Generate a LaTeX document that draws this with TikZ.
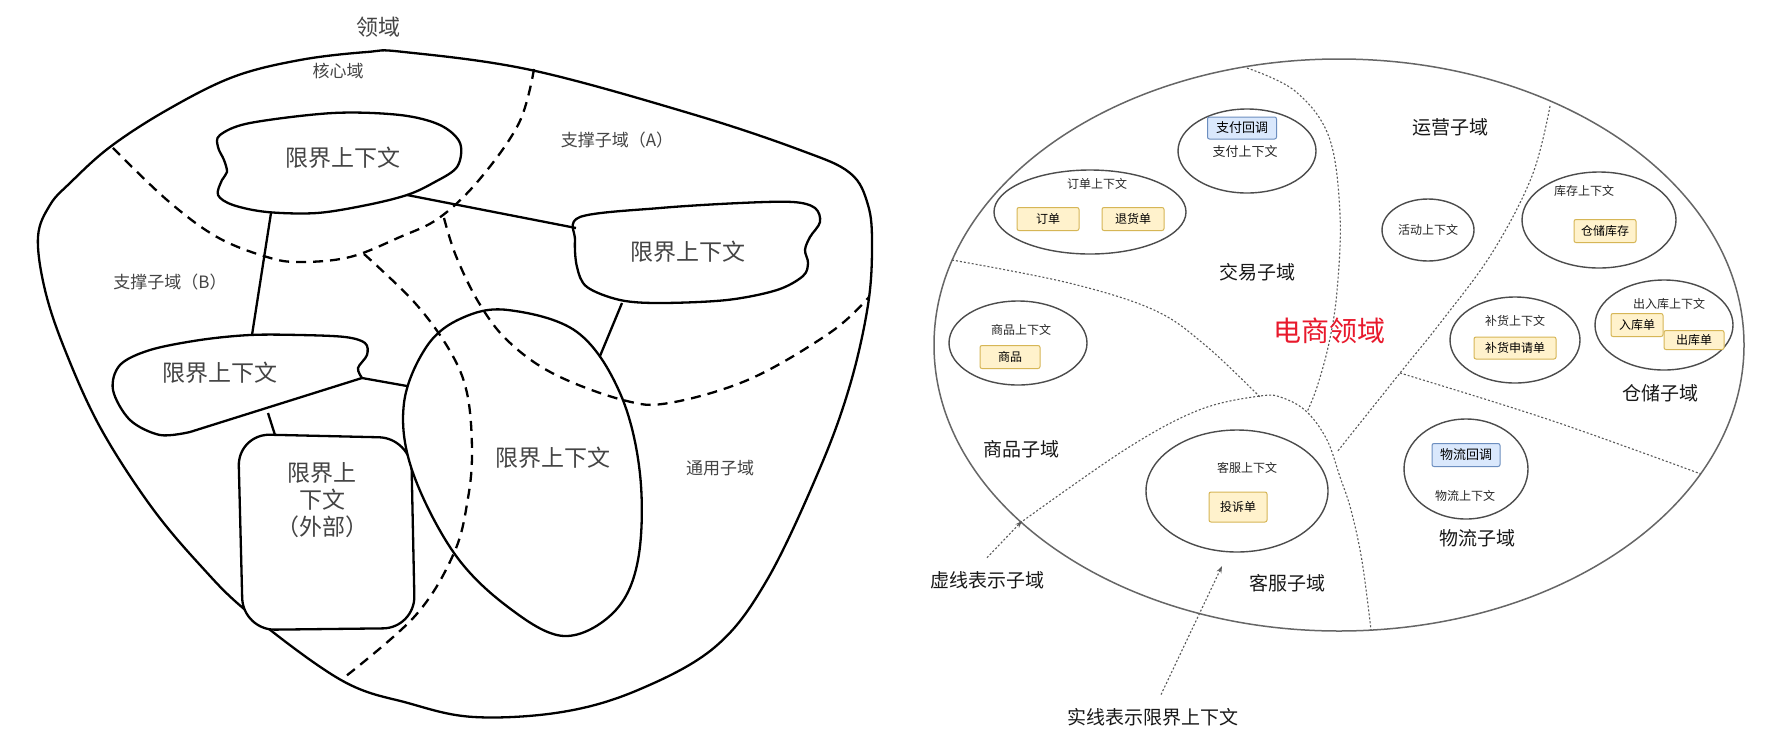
\documentclass[tikz,border=0pt]{standalone}
\usepackage{fontspec}
\setmainfont{Noto Sans CJK SC}
\usetikzlibrary{arrows.meta}
\definecolor{yfill}{HTML}{FFF2CC}
\definecolor{ydraw}{HTML}{D6B656}
\definecolor{bfill}{HTML}{DAE8FC}
\definecolor{bdraw}{HTML}{6C8EBF}
\definecolor{ered}{HTML}{E8192C}
\definecolor{ltxt}{HTML}{444444}
\newcommand\fsz[2]{\fontsize{#1}{#2}\selectfont}
\begin{document}
\begin{tikzpicture}[x=1pt,y=-1pt,
  bline/.style={draw=black,line width=2.3pt,line join=round},
  dline/.style={draw=black,line width=2.3pt,dash pattern=on 10pt off 7pt},
  lbl/.style={text=ltxt,font=\fsz{17}{20}},
  bctx/.style={text=ltxt,font=\fsz{23}{27},align=center},
  sub/.style={draw=black!65,line width=1.1pt,dash pattern=on 2pt off 2pt},
  ctxe/.style={draw=black!70,line width=1.4pt},
  ybox/.style={draw=ydraw,fill=yfill,rounded corners=2pt,line width=1pt,inner sep=0pt,font=\fsz{12}{14}},
  bbox/.style={draw=bdraw,fill=bfill,rounded corners=2pt,line width=1pt,inner sep=0pt,font=\fsz{13}{15}},
  stxt/.style={font=\fsz{12}{14},text=black!85},
  dom/.style={font=\fsz{19}{22},text=black!90},
  note/.style={sub,-{Stealth[length=7pt,width=5pt]}},
]
\useasboundingbox (0,0) rectangle (1780,740);
\fill[white] (0,0) rectangle (1780,740);

%================ LEFT DIAGRAM =================
\node[text=ltxt,font=\fsz{22}{24}] (title) at (378,27) {领域};

% outer domain
\draw[bline] plot[smooth cycle,tension=0.6] coordinates {
 (38,237) (50,205) (70,183) (110,147) (167,110) (233,77) (300,60) (367,52) (404,52) (531,70)
 (692,114) (800,150) (850,173) (868,205) (872,245) (868,305) (850,385) (820,468)
 (767,580) (715,647) (638,690) (562,712) (474,717) (408,703) (341,680)
 (249,613) (200,565) (150,505) (100,427) (65,350) (45,290)};

% dashed subdomain borders
\draw[dline] plot[smooth,tension=0.6] coordinates {
 (534,69) (519,123) (479,180) (439,218) (400,237) (350,257) (300,262) (267,257) (217,237) (167,200) (112,147)};
\draw[dline] plot[smooth,tension=0.6] coordinates {
 (364,254) (415,303) (450,351) (467,393) (472,450) (468,498) (454,553) (415,616) (341,680)};
\draw[dline] plot[smooth,tension=0.6] coordinates {
 (444,218) (456,256) (479,303) (508,341) (554,374) (623,400) (669,403) (750,379) (831,332) (869,297)};

% bounded contexts
\draw[bline,fill=white] plot[smooth cycle,tension=0.55] coordinates {
 (220,135) (250,123) (333,113) (400,115) (440,125) (460,143) (457,167) (433,183)
 (407,195) (367,205) (317,213) (267,212) (233,205) (218,195) (222,180) (227,172) (224,160) (218,147)};
\draw[bline,fill=white] plot[smooth cycle,tension=0.55] coordinates {
 (580,217) (660,208) (740,203) (793,202) (815,208) (820,222) (810,237) (805,250)
 (808,263) (803,276) (777,290) (727,300) (660,303) (620,300) (587,287) (577,267) (575,240)};
\draw[bline,fill=white] plot[smooth,tension=0.55] coordinates {
 (362,378) (358,368) (367,355) (365,343) (345,337) (300,335) (250,335) (200,340)
 (150,350) (120,365) (113,390) (130,420) (160,435) (190,432)} -- cycle;
\draw[bline,fill=white,rounded corners=32pt] (238,434) -- (411,438) -- (415,628) -- (243,630) -- cycle;
\draw[bline,fill=white] plot[smooth cycle,tension=0.6] coordinates {
 (508,310) (577,332) (620,393) (640,474) (638,560) (614,612) (564,636) (508,607)
 (454,553) (412,470) (404,403) (427,346) (462,318)};
% dashed parts seen through the large context
\begin{scope}
\clip plot[smooth cycle,tension=0.6] coordinates {
 (508,310) (577,332) (620,393) (640,474) (638,560) (614,612) (564,636) (508,607)
 (454,553) (412,470) (404,403) (427,346) (462,318)};
\draw[dline] plot[smooth,tension=0.6] coordinates {
 (364,254) (415,303) (450,351) (467,393) (472,450) (468,498) (454,553) (415,616) (341,680)};
\draw[dline] plot[smooth,tension=0.6] coordinates {
 (444,218) (456,256) (479,303) (508,341) (554,374) (623,400) (669,403) (750,379) (831,332) (869,297)};
\end{scope}

\node[bctx] (bcTop) at (343,158) {限界上下文};
\node[bctx] (bcRight) at (688,252) {限界上下文};
\node[bctx] (bcLeft) at (220,373) {限界上下文};
\node[bctx] (bcEgg) at (553,458) {限界上下文};
\node[bctx] (bcExt) at (322,500) {限界上\\下文\\（外部）};

\coordinate (tR) at (407,195); \coordinate (rL) at (576,228);
\coordinate (tB) at (271,213); \coordinate (lT) at (252,335);
\coordinate (lR) at (362,378); \coordinate (eL) at (407,386);
\coordinate (lB) at (268,413); \coordinate (xT) at (275,435);
\coordinate (rB) at (622,303); \coordinate (eT) at (600,356);
\draw[bline] (tR) -- (rL);
\draw[bline] (tB) -- (lT);
\draw[bline] (lR) -- (eL);
\draw[bline] (lB) -- (xT);
\draw[bline] (rB) -- (eT);

\node[lbl] (core) at (338,71) {核心域};
\node[lbl] (supA) at (617,140) {支撑子域（A）};
\node[lbl] (supB) at (170,282) {支撑子域（B）};
\node[lbl] (gen) at (720,468) {通用子域};

%================ RIGHT DIAGRAM =================
\draw[draw=black!60,line width=1.5pt] (1339,345) ellipse [x radius=405, y radius=286];

\draw[sub] plot[smooth,tension=0.6] coordinates {
 (1247,68) (1295,91) (1329,137) (1340,214) (1337,291) (1329,343) (1317,387) (1307,412)};
\draw[sub] plot[smooth,tension=0.6] coordinates {
 (952,260) (1069,283) (1154,310) (1205,345) (1260,397)};
\draw[sub] plot[smooth,tension=0.6] coordinates {
 (1020,523) (1126,449) (1199,410) (1260,396) (1283,398) (1307,412) (1327,440)
 (1340,477) (1351,510) (1362,561) (1371,630)};
\draw[sub] plot[smooth,tension=0.6] coordinates {
 (1550,106) (1532,176) (1492,253) (1441,322) (1400,373) (1337,452)};
\draw[sub] plot[smooth,tension=0.6] coordinates {
 (1400,373) (1550,420) (1701,474)};

% contexts
\draw[ctxe] (1247,151) ellipse [x radius=69, y radius=42];
\node[bbox,minimum width=69pt,minimum height=22pt] (payCb) at (1242,128) {支付回调};
\node[stxt,font=\fsz{13}{15}] (payCtx) at (1245,152) {支付上下文};

\draw[ctxe] (1090,212) ellipse [x radius=96, y radius=42];
\node[stxt] (ordCtx) at (1097,184) {订单上下文};
\node[ybox,minimum width=62pt,minimum height=23pt] (ord) at (1048,219) {订单};
\node[ybox,minimum width=62pt,minimum height=23pt] (ret) at (1133,219) {退货单};

\draw[ctxe] (1428,230) ellipse [x radius=46, y radius=31];
\node[stxt] (actCtx) at (1428,230) {活动上下文};

\draw[ctxe] (1599,220) ellipse [x radius=77, y radius=48];
\node[stxt] (stkCtx) at (1584,191) {库存上下文};
\node[ybox,minimum width=62pt,minimum height=23pt] (stk) at (1605,231) {仓储库存};

\draw[ctxe] (1515,340) ellipse [x radius=65, y radius=43];
\node[stxt] (repCtx) at (1515,321) {补货上下文};
\node[ybox,minimum width=82pt,minimum height=22pt] (rep) at (1515,348) {补货申请单};

\draw[ctxe] (1664,325) ellipse [x radius=69, y radius=45];
\node[stxt] (ioCtx) at (1669,304) {出入库上下文};
\node[ybox,minimum width=60pt,minimum height=19pt] (outB) at (1694,340) {出库单};
\node[ybox,minimum width=52pt,minimum height=23pt] (inB) at (1637,325) {入库单};

\draw[ctxe] (1466,469) ellipse [x radius=62, y radius=50];
\node[bbox,minimum width=68pt,minimum height=23pt] (logCb) at (1466,455) {物流回调};
\node[stxt] (logCtx) at (1465,496) {物流上下文};

\draw[ctxe] (1018,343) ellipse [x radius=69, y radius=42];
\node[stxt] (goodCtx) at (1021,330) {商品上下文};
\node[ybox,minimum width=60pt,minimum height=23pt] (good) at (1010,357) {商品};

\draw[ctxe] (1237,491) ellipse [x radius=91, y radius=61];
\node[stxt] (csCtx) at (1247,468) {客服上下文};
\node[ybox,minimum width=58pt,minimum height=30pt] (cmp) at (1238,507) {投诉单};

% subdomain labels
\node[dom] (dOps) at (1450,127) {运营子域};
\node[dom] (dTrade) at (1257,272) {交易子域};
\node[font=\fsz{28}{30},text=ered] (dMain) at (1329,331) {电商领域};
\node[dom] (dWh) at (1660,393) {仓储子域};
\node[dom] (dLog) at (1477,538) {物流子域};
\node[dom] (dGood) at (1021,449) {商品子域};
\node[dom] (dCs) at (1287,583) {客服子域};
\node[dom] (nDash) at (987,580) {虚线表示子域};
\node[dom] (nSolid) at (1153,717) {实线表示限界上下文};

\coordinate (aDashTip) at (1022,521);
\coordinate (aSolidTip) at (1222,566);
\draw[note] (nDash.north) ++(0,-10) -- (aDashTip);
\draw[note] (nSolid.north) ++(8,-10) -- (aSolidTip);
\end{tikzpicture}
\end{document}
